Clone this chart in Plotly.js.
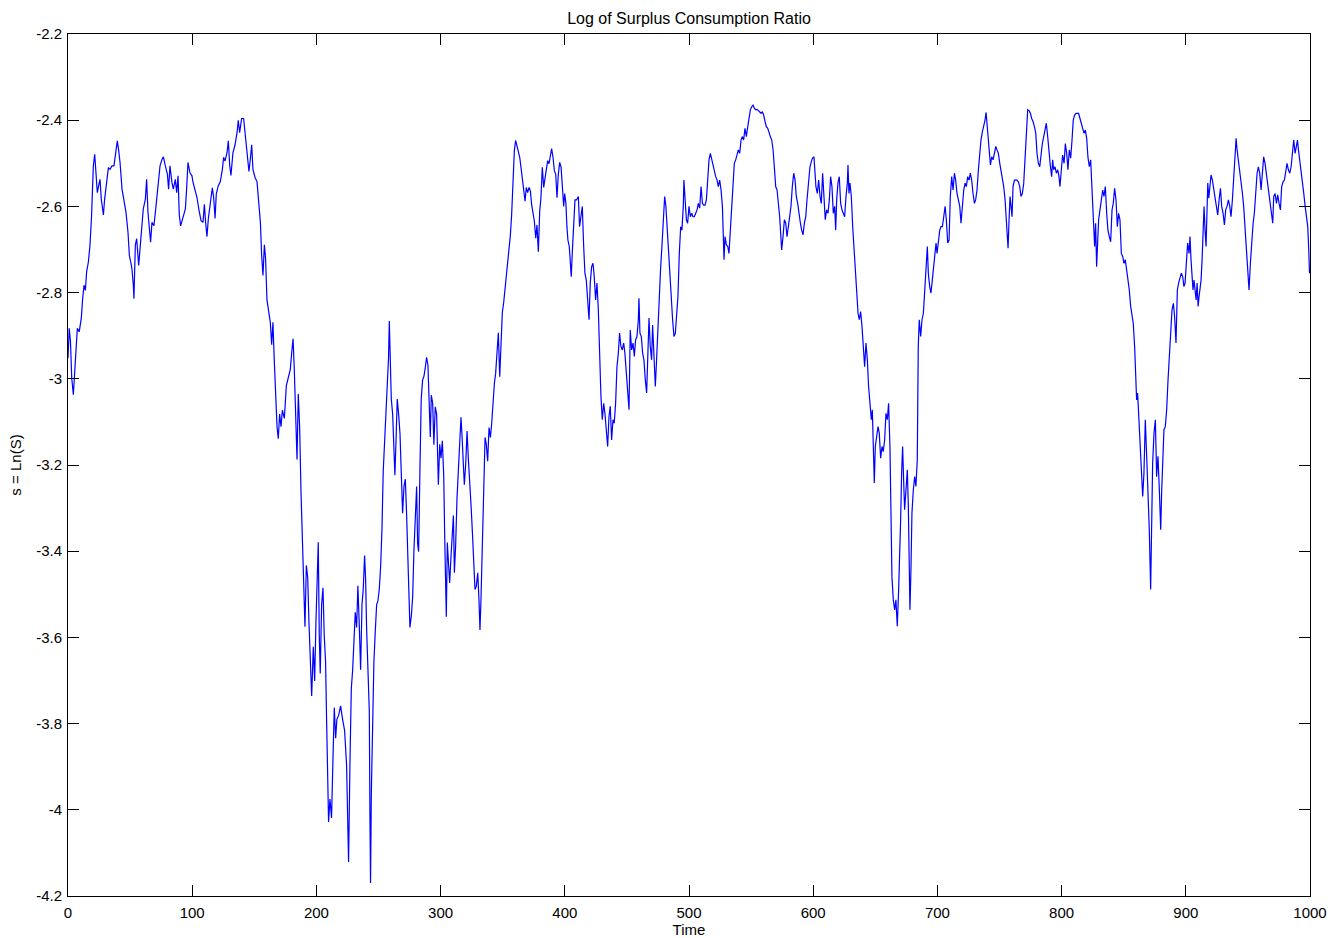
<!DOCTYPE html>
<html>
<head>
<meta charset="utf-8">
<script src="https://cdn.plot.ly/plotly-3.0.1.min.js"></script>
<style>
  html, body { margin: 0; padding: 0; background: #ffffff; }
  #chart { width: 1338px; height: 938px; }
</style>
</head>
<body>
<div id="chart"></div>
<script>
// ---- Data: [time, s = ln(S)], one array per stretch of time ----
const seg000 = [[0,-2.952],[1,-2.883],[2,-2.914],[3,-2.998],[4.3,-3.037],[5.4,-2.983],[6.4,-2.914],[7.5,-2.883],[9,-2.891],[10.7,-2.86],[11.8,-2.814],[12.9,-2.783],[14,-2.795],[15,-2.752],[16.4,-2.729],[17.7,-2.69],[19,-2.62],[20.4,-2.506],[21.5,-2.479],[22.5,-2.522],[23.6,-2.568],[24.7,-2.552],[25.8,-2.537],[26.8,-2.583],[28.5,-2.62],[29.5,-2.583],[31,-2.552],[32.5,-2.51],[33.8,-2.514],[35.4,-2.506],[37,-2.506],[38.6,-2.468],[39.7,-2.448],[40.8,-2.47],[41.9,-2.498],[43.5,-2.56],[45,-2.583],[46.7,-2.614],[48.3,-2.66],[49.4,-2.714],[50.5,-2.729],[51.5,-2.745],[52.6,-2.783],[53.1,-2.814],[54.2,-2.69],[55.3,-2.675],[56.9,-2.737],[57.9,-2.706],[59.6,-2.645],[60.6,-2.606],[62.3,-2.583],[63.3,-2.537],[64.4,-2.614],[65.5,-2.66],[66.5,-2.683],[67.6,-2.637],[69.2,-2.645],[70.9,-2.598],[72.5,-2.545],[74.1,-2.506],[75.7,-2.491],[76.8,-2.485],[78.4,-2.506],[80,-2.525],[81,-2.56],[82.1,-2.506],[83.7,-2.545],[84.8,-2.56],[86.4,-2.537],[87.5,-2.568],[88.6,-2.529],[89.6,-2.62],[90.7,-2.645],[92.9,-2.62],[94.5,-2.606],[95.5,-2.56],[96.6,-2.498],[98.2,-2.522],[99.8,-2.529]];
const seg100 = [[100.6,-2.543],[102.2,-2.561],[103.9,-2.58],[105.5,-2.609],[107.1,-2.633],[108.7,-2.637],[109.8,-2.595],[110.8,-2.637],[111.9,-2.67],[113,-2.628],[114.6,-2.59],[116.2,-2.557],[117.3,-2.58],[118.4,-2.628],[119.4,-2.571],[121,-2.552],[122.6,-2.543],[124.3,-2.514],[125.3,-2.486],[126.4,-2.495],[128,-2.476],[129.1,-2.448],[130.2,-2.505],[131.2,-2.528],[132.8,-2.476],[134.5,-2.457],[136.1,-2.429],[137.1,-2.4],[138.2,-2.429],[139.8,-2.396],[141.4,-2.396],[142.5,-2.429],[144.1,-2.476],[145.7,-2.519],[146.8,-2.49],[147.9,-2.457],[148.9,-2.514],[150.6,-2.533],[152.2,-2.543],[153.2,-2.58],[154.9,-2.637],[155.9,-2.713],[157,-2.76],[158.1,-2.689],[159.1,-2.722],[160.2,-2.817],[161.3,-2.836],[162.9,-2.869],[164,-2.921],[165,-2.869],[166.1,-2.959],[167.2,-3.054],[168.3,-3.111],[169.3,-3.139],[170.4,-3.082],[171.5,-3.111],[172.6,-3.073],[174.2,-3.092],[175.8,-3.016],[177.4,-2.997],[179,-2.978],[180.1,-2.94],[181.2,-2.907],[182.2,-2.978],[183.3,-3.073],[184.4,-3.187],[185.4,-3.035],[186.5,-3.111],[187.6,-3.262],[188.7,-3.357],[189.7,-3.49],[190.8,-3.575],[191.9,-3.433],[193,-3.461],[194,-3.565],[195.1,-3.669],[196.2,-3.736],[197.5,-3.622],[198.6,-3.701],[199.6,-3.569]];
const seg200 = [[200.7,-3.445],[201.5,-3.379],[202.3,-3.595],[203.1,-3.684],[204.2,-3.524],[205.3,-3.485],[206.3,-3.595],[207.4,-3.657],[208.2,-3.79],[209,-3.958],[209.8,-4.028],[210.9,-3.975],[212.2,-4.019],[213.3,-3.887],[214.4,-3.763],[215.5,-3.834],[216.5,-3.79],[217.9,-3.781],[219.5,-3.759],[221.1,-3.79],[222.7,-3.816],[224.3,-3.896],[225.4,-4.037],[225.9,-4.121],[227,-3.896],[228.1,-3.719],[229.2,-3.675],[230.2,-3.613],[231.3,-3.542],[232.4,-3.577],[233.4,-3.48],[234.5,-3.569],[235.6,-3.675],[236.7,-3.524],[237.7,-3.489],[238.8,-3.41],[239.6,-3.463],[240.4,-3.577],[241.5,-3.701],[242.6,-3.772],[243.1,-4.011],[243.6,-4.17],[244.2,-3.966],[245.3,-3.79],[246.3,-3.657],[247.4,-3.586],[248.5,-3.524],[249.5,-3.516],[250.6,-3.489],[251.7,-3.436],[252.8,-3.348],[253.8,-3.215],[254.9,-3.144],[256,-3.082],[257.1,-3.038],[258.1,-2.95],[258.7,-2.866],[259.5,-2.95],[260.3,-3.047],[261.4,-3.082],[262.4,-3.153],[263.2,-3.224],[264,-3.153],[265.1,-3.047],[266.2,-3.082],[267.3,-3.127],[268.3,-3.215],[269.4,-3.312],[270.5,-3.25],[271.6,-3.233],[272.6,-3.312],[273.4,-3.401],[274.2,-3.516],[275.3,-3.577],[276.4,-3.551],[277.5,-3.507],[278.5,-3.401],[279.6,-3.303],[280.7,-3.25],[281.5,-3.383],[282.3,-3.401],[283.4,-3.206],[284.4,-3.047],[285.5,-3.003],[286.6,-2.994],[287.6,-2.976],[288.7,-2.95],[289.8,-2.968],[290.9,-3.065],[291.7,-3.135],[292.5,-3.038],[293.6,-3.056],[294.6,-3.153],[295.7,-3.065],[296.8,-3.082],[297.9,-3.233],[298.2,-3.246],[299.3,-3.152]];
const seg300 = [[300.3,-3.184],[301.4,-3.144],[302.5,-3.223],[303.3,-3.364],[304.1,-3.505],[304.6,-3.552],[305.4,-3.38],[306.2,-3.411],[307.3,-3.474],[308.4,-3.411],[309.5,-3.356],[310.3,-3.317],[311.1,-3.45],[312.1,-3.387],[313.2,-3.278],[314.3,-3.199],[315.4,-3.152],[316.4,-3.089],[317.2,-3.129],[318,-3.199],[319.1,-3.246],[320.2,-3.199],[321.3,-3.121],[322.3,-3.184],[323.4,-3.231],[324.5,-3.293],[325.6,-3.356],[326.6,-3.427],[327.7,-3.489],[328.8,-3.481],[329.9,-3.45],[330.9,-3.513],[331.7,-3.583],[332.5,-3.513],[333.6,-3.387],[334.7,-3.262],[335.8,-3.136],[336.8,-3.152],[337.9,-3.191],[339,-3.113],[340.1,-3.136],[341.1,-3.105],[342.2,-3.042],[343.3,-3.011],[344.3,-2.988],[345.4,-2.933],[346.5,-2.893],[347.6,-2.995],[348.6,-2.917],[349.7,-2.846],[350.8,-2.823],[351.9,-2.792],[352.9,-2.76],[354,-2.729],[355.1,-2.713],[356.2,-2.666],[357.2,-2.619],[358.3,-2.517],[359.4,-2.47],[360.4,-2.447],[361.5,-2.462],[362.6,-2.478],[363.7,-2.486],[364.7,-2.509],[365.8,-2.541],[366.9,-2.564],[368,-2.588],[369,-2.556],[370.1,-2.568],[371.2,-2.556],[372.3,-2.564],[373.3,-2.596],[374.4,-2.619],[375.5,-2.635],[376.6,-2.674],[377.6,-2.643],[378.7,-2.705],[379.8,-2.611],[380.8,-2.58],[381.9,-2.509],[383,-2.556],[384.1,-2.533],[385.1,-2.509],[386.2,-2.494],[387.3,-2.501],[388.4,-2.486],[389.4,-2.466],[390.5,-2.486],[391.6,-2.517],[392.7,-2.525],[393.7,-2.58],[394.8,-2.525],[395.9,-2.498],[397,-2.509],[398.2,-2.554],[399.1,-2.6],[399.9,-2.57]];
const seg400 = [[400.9,-2.593],[401.7,-2.647],[402.5,-2.678],[403.6,-2.693],[404.4,-2.724],[405.2,-2.763],[406,-2.709],[407.1,-2.647],[408.2,-2.585],[409.5,-2.585],[410.9,-2.577],[411.9,-2.647],[413,-2.616],[414.1,-2.6],[415.2,-2.693],[416.2,-2.755],[417.3,-2.771],[418.4,-2.817],[419.5,-2.863],[420.5,-2.778],[421.6,-2.74],[422.7,-2.732],[423.7,-2.763],[424.8,-2.817],[425.9,-2.778],[427,-2.84],[428,-2.941],[429.1,-3.041],[430.2,-3.095],[431.3,-3.057],[432.3,-3.08],[433.4,-3.118],[434.5,-3.157],[435.6,-3.087],[436.6,-3.064],[437.7,-3.142],[438.8,-3.095],[439.8,-3.103],[440.9,-3.057],[442,-2.972],[443.1,-2.941],[444.1,-2.894],[445.2,-2.925],[446.3,-2.933],[447.4,-2.917],[448.4,-2.941],[449.5,-2.987],[450.6,-3.01],[451.7,-3.072],[452.7,-2.887],[453.8,-2.933],[454.9,-2.917],[456,-2.948],[457,-2.91],[458.1,-2.902],[459.2,-2.863],[459.7,-2.813],[460.5,-2.894],[461.6,-2.902],[462.7,-2.941],[463.7,-2.956],[464.8,-3.002],[465.9,-3.033],[466.9,-2.941],[467.8,-2.859],[468.8,-2.925],[469.9,-2.956],[470.7,-2.875],[471.8,-2.941],[472.9,-3.018],[473.9,-2.956],[475,-2.871],[476.1,-2.817],[477.2,-2.74],[478.2,-2.693],[479.3,-2.616],[480.4,-2.577],[481.4,-2.6],[482.5,-2.647],[483.6,-2.709],[484.7,-2.755],[485.7,-2.809],[486.8,-2.863],[487.9,-2.902],[489,-2.894],[490,-2.84],[491.1,-2.809],[492.2,-2.709],[493.3,-2.647],[494.3,-2.655],[495.4,-2.6],[495.9,-2.539],[496.7,-2.577],[497.9,-2.631],[498.9,-2.639]];
const seg500 = [[500,-2.6],[501.1,-2.624],[502.2,-2.616],[503.2,-2.624],[504.3,-2.624],[505.4,-2.616],[506.5,-2.608],[507.5,-2.593],[508.6,-2.604],[509.7,-2.554],[510.8,-2.593],[511.8,-2.597],[512.9,-2.597],[514,-2.585],[515.1,-2.523],[516.1,-2.492],[517.2,-2.477],[518.3,-2.492],[519.3,-2.508],[520.4,-2.523],[521.5,-2.531],[522.6,-2.539],[523.6,-2.554],[524.7,-2.539],[525.8,-2.562],[526.9,-2.6],[527.7,-2.67],[528.2,-2.724],[529,-2.67],[530.1,-2.689],[531.2,-2.693],[532.2,-2.709],[533.3,-2.655],[534.4,-2.593],[535.5,-2.539],[536.5,-2.5],[537.6,-2.492],[538.7,-2.477],[539.7,-2.469],[540.8,-2.477],[541.9,-2.446],[543,-2.438],[544,-2.446],[545.1,-2.419],[546.2,-2.438],[547.3,-2.415],[548.3,-2.399],[549.4,-2.376],[550.5,-2.369],[551.6,-2.365],[552.6,-2.372],[553.7,-2.376],[554.8,-2.375],[555.8,-2.378],[556.9,-2.38],[558,-2.384],[559.1,-2.38],[560.1,-2.388],[561.2,-2.403],[562.3,-2.415],[563.4,-2.419],[564.4,-2.43],[565.5,-2.438],[566.6,-2.446],[567.7,-2.469],[568.7,-2.508],[569.8,-2.554],[570.9,-2.562],[571.9,-2.585],[573,-2.624],[573.8,-2.662],[574.6,-2.701],[575.7,-2.67],[576.8,-2.631],[577.9,-2.639],[578.9,-2.67],[580,-2.647],[581.1,-2.624],[582.1,-2.6],[583.2,-2.554],[584.3,-2.523],[585.4,-2.539],[586.4,-2.577],[587.5,-2.593],[588.6,-2.624],[589.7,-2.639],[590.7,-2.655],[591.8,-2.666],[592.9,-2.639],[594,-2.624],[595,-2.585],[596.1,-2.539],[597.4,-2.508],[598.5,-2.496],[599.5,-2.488]];
const seg600 = [[600.6,-2.485],[601.4,-2.523],[602.2,-2.554],[603.3,-2.57],[604.4,-2.539],[605.5,-2.577],[606.5,-2.593],[607.6,-2.523],[608.7,-2.577],[609.7,-2.631],[610.8,-2.608],[611.9,-2.616],[613,-2.585],[614,-2.531],[615.1,-2.554],[616.2,-2.616],[617.3,-2.6],[618.1,-2.655],[618.9,-2.585],[619.9,-2.546],[621,-2.531],[622.1,-2.593],[623.2,-2.608],[624.2,-2.616],[625.3,-2.624],[626.4,-2.577],[627.5,-2.546],[628,-2.504],[628.8,-2.57],[629.6,-2.546],[630.7,-2.577],[631.8,-2.647],[632.8,-2.701],[633.9,-2.755],[635,-2.801],[636.1,-2.848],[637.1,-2.863],[638.2,-2.844],[639.3,-2.879],[640.3,-2.925],[641.4,-2.972],[642.5,-2.917],[643.6,-2.956],[644.6,-3.018],[645.7,-3.064],[646.8,-3.095],[647.6,-3.072],[648.4,-3.157],[649.2,-3.242],[650,-3.157],[651.1,-3.126],[652.2,-3.111],[653.2,-3.126],[654.3,-3.184],[655.4,-3.157],[656.4,-3.169],[657.5,-3.142],[658.6,-3.08],[659.7,-3.095],[660.7,-3.057],[661.8,-3.157],[662.6,-3.343],[663.4,-3.459],[664.5,-3.513],[665.6,-3.536],[666.6,-3.513],[667.7,-3.574],[668.8,-3.489],[669.6,-3.42],[670.4,-3.327],[671.2,-3.219],[672,-3.157],[672.8,-3.234],[673.6,-3.304],[674.7,-3.258],[675.8,-3.211],[676.6,-3.296],[677.4,-3.459],[677.9,-3.536],[678.7,-3.443],[679.5,-3.312],[680.6,-3.258],[681.7,-3.227],[682.7,-3.25],[683.8,-3.188],[684.6,-2.925],[685.4,-2.863],[686.5,-2.902],[687.6,-2.863],[688.7,-2.848],[689.7,-2.809],[690.8,-2.747],[691.9,-2.693],[692.7,-2.755],[693.8,-2.786],[694.8,-2.801],[695.9,-2.771],[697,-2.74],[698.1,-2.701],[698.9,-2.685],[699.7,-2.709]];
const seg700 = [[700.8,-2.678],[701.9,-2.655],[702.9,-2.647],[704,-2.647],[705.1,-2.624],[706.2,-2.6],[707.2,-2.631],[708.3,-2.685],[709.4,-2.678],[710.4,-2.577],[711.5,-2.531],[712.6,-2.562],[713.7,-2.523],[714.7,-2.539],[715.8,-2.57],[716.9,-2.585],[718,-2.6],[719,-2.639],[720.1,-2.593],[721.2,-2.562],[722.3,-2.546],[723.3,-2.554],[724.4,-2.531],[725.5,-2.539],[726.5,-2.523],[727.6,-2.539],[728.7,-2.57],[729.8,-2.593],[730.8,-2.585],[731.9,-2.562],[733,-2.515],[734.1,-2.469],[735.1,-2.446],[736.2,-2.427],[737.3,-2.415],[738.4,-2.399],[739.2,-2.382],[740,-2.407],[741.1,-2.438],[741.9,-2.477],[742.7,-2.504],[743.7,-2.485],[744.8,-2.492],[745.9,-2.477],[747,-2.461],[748,-2.469],[749.1,-2.477],[750.2,-2.5],[751.2,-2.515],[752.3,-2.531],[753.4,-2.554],[754.5,-2.585],[755.3,-2.624],[756.1,-2.655],[756.9,-2.697],[757.7,-2.631],[758.5,-2.577],[759.3,-2.6],[760.1,-2.624],[760.9,-2.554],[762,-2.539],[763.1,-2.539],[764.1,-2.539],[765.2,-2.543],[766.3,-2.554],[767.3,-2.577],[768.4,-2.57],[769.5,-2.546],[770.6,-2.485],[771.6,-2.415],[772.7,-2.376],[773.8,-2.378],[774.9,-2.384],[775.9,-2.396],[777,-2.403],[778.1,-2.415],[779.2,-2.43],[780.2,-2.477],[781.3,-2.5],[782.4,-2.508],[783.4,-2.477],[784.5,-2.454],[785.6,-2.438],[786.7,-2.423],[787.7,-2.407],[788.8,-2.438],[789.9,-2.485],[791,-2.508],[792,-2.531],[792.8,-2.492],[793.6,-2.515],[794.7,-2.508],[795.8,-2.523],[796.9,-2.515],[797.9,-2.531],[798.7,-2.554],[799.8,-2.515]];
const seg800 = [[800.8,-2.481],[802,-2.5],[803,-2.454],[804.1,-2.477],[805.1,-2.515],[806.2,-2.469],[807.3,-2.488],[808.4,-2.446],[809.4,-2.399],[810.5,-2.388],[811.6,-2.384],[812.7,-2.384],[813.7,-2.384],[814.8,-2.396],[815.9,-2.407],[817,-2.423],[818,-2.43],[819.1,-2.423],[820.2,-2.442],[821.2,-2.485],[822.3,-2.508],[823.4,-2.492],[824.2,-2.546],[825,-2.608],[825.8,-2.647],[826.6,-2.693],[827.4,-2.639],[828.2,-2.74],[829,-2.685],[829.8,-2.631],[830.9,-2.608],[832,-2.577],[833.1,-2.562],[834.1,-2.577],[835.2,-2.554],[836.3,-2.616],[837.3,-2.655],[838.4,-2.67],[839.5,-2.682],[840.6,-2.608],[841.6,-2.593],[842.7,-2.558],[843.8,-2.585],[844.9,-2.647],[845.9,-2.616],[847,-2.631],[848.1,-2.709],[849.2,-2.716],[850.2,-2.732],[851.3,-2.724],[852.4,-2.747],[853.4,-2.77],[854.5,-2.794],[855.6,-2.832],[856.7,-2.848],[857.7,-2.871],[858.8,-2.925],[859.9,-2.987],[860.4,-3.049],[861.2,-3.033],[862,-3.08],[863.1,-3.142],[864.2,-3.242],[865.3,-3.273],[866.3,-3.219],[867.4,-3.095],[868.5,-3.18],[869.6,-3.258],[870.6,-3.35],[871.7,-3.489],[872.5,-3.319],[873.3,-3.196],[874.4,-3.126],[875.5,-3.095],[876.5,-3.227],[877.6,-3.18],[878.7,-3.258],[879.8,-3.35],[880.6,-3.258],[881.4,-3.18],[882.4,-3.118],[883.5,-3.111],[884.6,-3.072],[885.7,-3.002],[886.7,-2.948],[887.8,-2.871],[888.9,-2.84],[890,-2.825],[891,-2.856],[892.1,-2.917],[893.2,-2.794],[894.2,-2.778],[895.3,-2.763],[896.4,-2.755],[897.5,-2.763],[898.5,-2.786],[899.4,-2.778]];
const seg900 = [[900.5,-2.716],[901.5,-2.685],[902.6,-2.709],[903.4,-2.67],[904.2,-2.724],[905,-2.763],[905.8,-2.794],[906.6,-2.771],[907.4,-2.801],[908.3,-2.817],[909.1,-2.778],[909.9,-2.832],[910.7,-2.809],[911.5,-2.786],[912.3,-2.771],[913.1,-2.724],[913.9,-2.647],[914.7,-2.6],[915.5,-2.655],[916.3,-2.693],[917.1,-2.608],[917.7,-2.546],[918.5,-2.581],[919.3,-2.562],[920.3,-2.527],[921.4,-2.539],[922.5,-2.562],[923.6,-2.585],[924.6,-2.608],[925.7,-2.62],[926.8,-2.585],[927.9,-2.558],[928.9,-2.6],[930,-2.616],[931.1,-2.643],[932.1,-2.608],[933.2,-2.6],[934.3,-2.585],[935.4,-2.6],[936.4,-2.624],[937.5,-2.585],[938.6,-2.531],[939.7,-2.469],[940.5,-2.442],[941.3,-2.469],[942.4,-2.492],[943.4,-2.523],[944.5,-2.546],[945.6,-2.57],[946.6,-2.6],[947.7,-2.647],[948.8,-2.693],[949.9,-2.755],[950.9,-2.794],[952,-2.732],[953.1,-2.678],[954.2,-2.639],[955.2,-2.616],[956.3,-2.57],[957.4,-2.523],[958.4,-2.508],[959.5,-2.523],[960.6,-2.562],[961.7,-2.512],[962.7,-2.485],[963.8,-2.5],[964.9,-2.523],[966,-2.546],[967,-2.57],[968.1,-2.589],[969.2,-2.616],[970,-2.639],[970.8,-2.577],[971.9,-2.57],[973,-2.593],[974,-2.573],[975.1,-2.593],[976.2,-2.608],[977.2,-2.554],[978.3,-2.543],[979.4,-2.539],[980.5,-2.515],[981.5,-2.5],[982.6,-2.515],[983.7,-2.523],[984.8,-2.508],[985.8,-2.469],[986.9,-2.446],[988,-2.477],[989.1,-2.461],[989.9,-2.446],[990.7,-2.469],[991.8,-2.492],[992.9,-2.523],[993.9,-2.546],[995,-2.57],[996.1,-2.6],[997.2,-2.631],[998.2,-2.647],[999,-2.701],[999.6,-2.755]];

const xTickValues = [0, 100, 200, 300, 400, 500, 600, 700, 800, 900, 1000];
const yTickValues = [-4.2, -4, -3.8, -3.6, -3.4, -3.2, -3, -2.8, -2.6, -2.4, -2.2];
const yTickLabels = ['-4.2', '-4', '-3.8', '-3.6', '-3.4', '-3.2', '-3', '-2.8', '-2.6', '-2.4', '-2.2'];

const chartTitle = 'Log of Surplus Consumption Ratio';
const xTitle = 'Time';
const yTitle = 's = Ln(S)';

// ---- Build ----
const allPoints = [].concat(seg000, seg100, seg200, seg300, seg400, seg500, seg600, seg700, seg800, seg900);
const timeValues = allPoints.map(p => p[0]);
const surplusValues = allPoints.map(p => p[1]);

const family = '"Liberation Sans", Arial, Helvetica, sans-serif';
const tickFont = { family: family, size: 15, color: '#000000' };
const titleFont = { family: family, size: 16, color: '#000000' };
const axisTitleFont = { family: family, size: 15, color: '#000000' };

const trace = {
  type: 'scatter',
  mode: 'lines',
  x: timeValues,
  y: surplusValues,
  line: { color: '#0000ff', width: 1.2 },
  hoverinfo: 'x+y',
  showlegend: false
};

const axisCommon = {
  showline: true,
  linecolor: '#000000',
  linewidth: 1,
  mirror: 'ticks',
  ticks: 'inside',
  ticklen: 11,
  tickwidth: 1,
  tickcolor: '#000000',
  showgrid: false,
  zeroline: false,
  tickfont: tickFont,
  fixedrange: true
};

const layout = {
  width: 1338,
  height: 938,
  margin: { l: 68, r: 28, t: 34, b: 42, pad: 0 },
  paper_bgcolor: '#ffffff',
  plot_bgcolor: '#ffffff',
  font: tickFont,
  title: {
    text: chartTitle,
    font: titleFont,
    x: 0.5,
    xref: 'paper',
    xanchor: 'center',
    y: 1 - 18 / 938,
    yref: 'container',
    yanchor: 'middle'
  },
  xaxis: Object.assign({}, axisCommon, {
    range: [0, 1000],
    tickmode: 'array',
    tickvals: xTickValues,
    ticktext: xTickValues.map(String),
    ticklabelstandoff: 3,
    title: { text: xTitle, font: axisTitleFont, standoff: 4 }
  }),
  yaxis: Object.assign({}, axisCommon, {
    range: [-4.2, -2.2],
    tickmode: 'array',
    tickvals: yTickValues,
    ticktext: yTickLabels,
    ticklabelstandoff: 2,
    title: { text: yTitle, font: axisTitleFont, standoff: 10 }
  })
};

Plotly.newPlot('chart', [trace], layout, { displayModeBar: false, staticPlot: false, responsive: false });
</script>
</body>
</html>
